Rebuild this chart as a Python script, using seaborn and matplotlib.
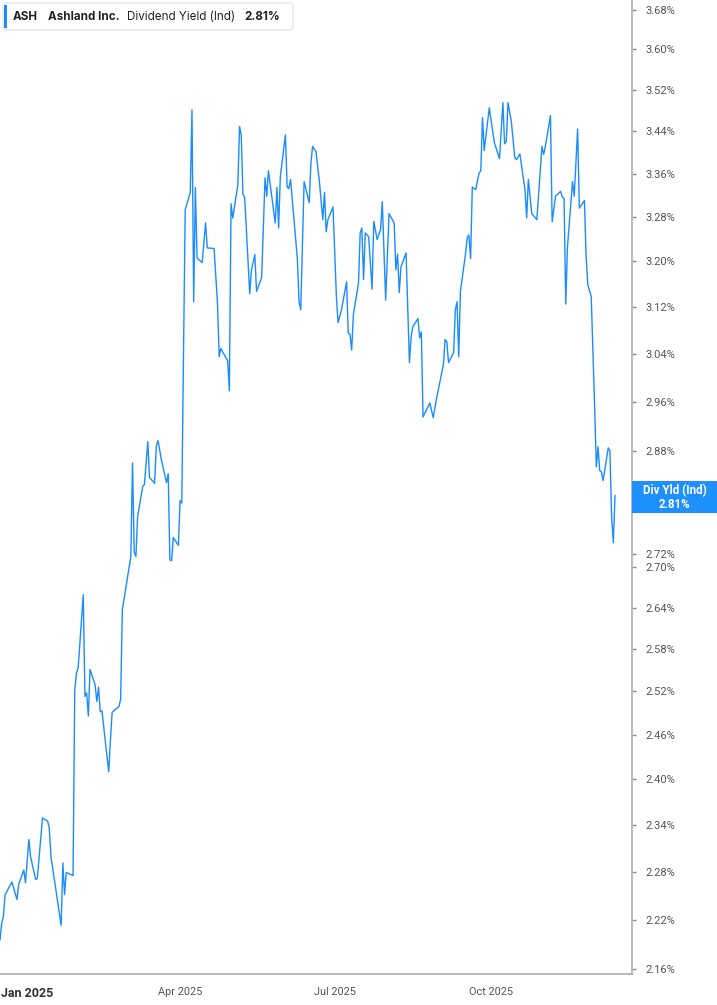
import pandas as pd
import matplotlib
matplotlib.use("Agg")
import matplotlib.pyplot as plt
import matplotlib.ticker as mticker
from matplotlib.patches import FancyBboxPatch, Rectangle
from matplotlib.transforms import IdentityTransform
import seaborn as sns

# ---- data ----
dates = [
    "2024-12-16", "2024-12-17", "2024-12-18", "2024-12-19", "2024-12-23", "2024-12-26",
    "2024-12-27", "2024-12-30", "2024-12-31", "2025-01-02", "2025-01-03", "2025-01-06",
    "2025-01-07", "2025-01-10", "2025-01-13", "2025-01-14", "2025-01-15", "2025-01-21",
    "2025-01-22", "2025-01-23", "2025-01-24", "2025-01-27", "2025-01-28", "2025-01-29",
    "2025-01-30", "2025-01-31", "2025-02-03", "2025-02-04", "2025-02-05", "2025-02-06",
    "2025-02-07", "2025-02-10", "2025-02-11", "2025-02-12", "2025-02-13", "2025-02-14",
    "2025-02-18", "2025-02-19", "2025-02-20", "2025-02-24", "2025-02-25", "2025-02-26",
    "2025-03-03", "2025-03-04", "2025-03-05", "2025-03-06", "2025-03-07", "2025-03-10",
    "2025-03-11", "2025-03-13", "2025-03-14", "2025-03-17", "2025-03-18", "2025-03-19",
    "2025-03-21", "2025-03-24", "2025-03-25", "2025-03-26", "2025-03-27", "2025-03-28",
    "2025-03-31", "2025-04-01", "2025-04-02", "2025-04-04", "2025-04-07", "2025-04-08",
    "2025-04-09", "2025-04-10", "2025-04-11", "2025-04-14", "2025-04-16", "2025-04-17",
    "2025-04-21", "2025-04-23", "2025-04-24", "2025-04-25", "2025-04-29", "2025-04-30",
    "2025-05-01", "2025-05-02", "2025-05-05", "2025-05-06", "2025-05-07", "2025-05-08",
    "2025-05-09", "2025-05-12", "2025-05-13", "2025-05-15", "2025-05-16", "2025-05-19",
    "2025-05-21", "2025-05-22", "2025-05-23", "2025-05-27", "2025-05-28", "2025-05-29",
    "2025-05-30", "2025-06-02", "2025-06-03", "2025-06-04", "2025-06-05", "2025-06-09",
    "2025-06-10", "2025-06-11", "2025-06-13", "2025-06-16", "2025-06-17", "2025-06-18",
    "2025-06-20", "2025-06-22", "2025-06-24", "2025-06-25", "2025-06-26", "2025-06-27",
    "2025-06-30", "2025-07-02", "2025-07-03", "2025-07-05", "2025-07-08", "2025-07-09",
    "2025-07-10", "2025-07-11", "2025-07-12", "2025-07-15", "2025-07-16", "2025-07-17",
    "2025-07-18", "2025-07-19", "2025-07-21", "2025-07-23", "2025-07-24", "2025-07-26",
    "2025-07-28", "2025-07-29", "2025-07-31", "2025-08-02", "2025-08-05", "2025-08-06",
    "2025-08-07", "2025-08-08", "2025-08-09", "2025-08-12", "2025-08-14", "2025-08-15",
    "2025-08-16", "2025-08-19", "2025-08-20", "2025-08-21", "2025-08-22", "2025-08-26",
    "2025-08-28", "2025-08-30", "2025-09-03", "2025-09-04", "2025-09-05", "2025-09-06",
    "2025-09-09", "2025-09-10", "2025-09-11", "2025-09-12", "2025-09-13", "2025-09-16",
    "2025-09-17", "2025-09-18", "2025-09-19", "2025-09-20", "2025-09-22", "2025-09-24",
    "2025-09-25", "2025-09-26", "2025-09-27", "2025-09-30", "2025-10-03", "2025-10-06",
    "2025-10-08", "2025-10-09", "2025-10-10", "2025-10-11", "2025-10-13", "2025-10-15",
    "2025-10-16", "2025-10-18", "2025-10-21", "2025-10-22", "2025-10-23", "2025-10-25",
    "2025-10-28", "2025-10-31", "2025-11-01", "2025-11-02", "2025-11-05", "2025-11-06",
    "2025-11-08", "2025-11-11", "2025-11-12", "2025-11-13", "2025-11-14", "2025-11-15",
    "2025-11-18", "2025-11-19", "2025-11-21", "2025-11-22", "2025-11-25", "2025-11-26",
    "2025-11-27", "2025-11-29", "2025-12-01", "2025-12-02", "2025-12-03", "2025-12-04",
    "2025-12-05", "2025-12-06", "2025-12-09", "2025-12-10", "2025-12-11", "2025-12-12",
    "2025-12-13",
]
yields = [
    2.195, 2.216, 2.224, 2.251, 2.267, 2.245,
    2.264, 2.282, 2.266, 2.321, 2.299, 2.270,
    2.272, 2.349, 2.345, 2.336, 2.299, 2.213,
    2.291, 2.251, 2.279, 2.276, 2.275, 2.522,
    2.546, 2.553, 2.659, 2.513, 2.518, 2.486,
    2.551, 2.529, 2.506, 2.526, 2.492, 2.493,
    2.410, 2.453, 2.491, 2.499, 2.509, 2.637,
    2.716, 2.861, 2.723, 2.716, 2.777, 2.824,
    2.827, 2.895, 2.838, 2.829, 2.888, 2.897,
    2.866, 2.830, 2.844, 2.711, 2.710, 2.745,
    2.733, 2.802, 2.798, 3.293, 3.325, 3.481,
    3.129, 3.334, 3.206, 3.198, 3.269, 3.224,
    3.223, 3.127, 3.035, 3.049, 3.028, 2.978,
    3.304, 3.278, 3.339, 3.449, 3.433, 3.321,
    3.316, 3.143, 3.185, 3.212, 3.147, 3.171,
    3.352, 3.318, 3.365, 3.269, 3.334, 3.260,
    3.354, 3.433, 3.335, 3.332, 3.349, 3.206,
    3.129, 3.115, 3.345, 3.306, 3.380, 3.411,
    3.401, 3.345, 3.275, 3.325, 3.253, 3.275,
    3.298, 3.138, 3.093, 3.115, 3.164, 3.075,
    3.073, 3.046, 3.107, 3.161, 3.251, 3.260,
    3.168, 3.251, 3.244, 3.151, 3.272, 3.239,
    3.257, 3.308, 3.132, 3.286, 3.269, 3.185,
    3.213, 3.145, 3.190, 3.215, 3.025, 3.069,
    3.086, 3.100, 3.067, 3.077, 2.935, 2.958,
    2.934, 2.966, 3.022, 3.064, 3.060, 3.025,
    3.042, 3.115, 3.129, 3.035, 3.147, 3.213,
    3.242, 3.247, 3.205, 3.335, 3.330, 3.361,
    3.365, 3.466, 3.403, 3.485, 3.418, 3.388,
    3.495, 3.416, 3.420, 3.495, 3.458, 3.390,
    3.386, 3.397, 3.330, 3.278, 3.349, 3.286,
    3.275, 3.411, 3.396, 3.411, 3.470, 3.271,
    3.318, 3.327, 3.316, 3.314, 3.125, 3.225,
    3.345, 3.318, 3.444, 3.296, 3.310, 3.208,
    3.159, 3.138, 2.952, 2.855, 2.887, 2.849,
    2.847, 2.833, 2.885, 2.880, 2.777, 2.737,
    2.810,
]

# 2.80% sits under the last-value tag in the reference, so it is left out
ytick_vals = [3.68, 3.60, 3.52, 3.44, 3.36, 3.28, 3.20, 3.12, 3.04, 2.96, 2.88,
              2.72, 2.70, 2.64, 2.58, 2.52, 2.46, 2.40, 2.34, 2.28, 2.22, 2.16]
xtick_dates = ["2025-01-01", "2025-04-01", "2025-07-01", "2025-10-01"]
xtick_labels = ["Jan 2025", "Apr 2025", "Jul 2025", "Oct 2025"]

symbol = "ASH"
company = "Ashland Inc."
metric = "Dividend Yield (Ind)"
tag_name = "Div Yld (Ind)"

LINE = "#1a8cff"
W, H = 717, 1005

sns.set_style("white")
plt.rcParams["font.family"] = ["Roboto", "DejaVu Sans"]

fig = plt.figure(figsize=(W / 100, H / 100), dpi=100)
ax = fig.add_axes([0, 1 - 974 / H, 632 / W, 974 / H])

df = pd.DataFrame({"date": pd.to_datetime(dates), "yield": yields})
sns.lineplot(data=df, x="date", y="yield", ax=ax, color=LINE, lw=1.0)

ax.set_yscale("log")
ax.set_ylim(2.154, 3.70)
ax.set_xlim(pd.Timestamp("2024-12-16"), pd.Timestamp("2025-12-23"))
ax.set_xlabel("")
ax.set_ylabel("")

ax.yaxis.tick_right()
ax.yaxis.set_major_locator(mticker.FixedLocator(ytick_vals))
ax.yaxis.set_minor_locator(mticker.NullLocator())
ax.yaxis.set_major_formatter(mticker.FuncFormatter(lambda v, p: f"{v:.2f}%"))
ax.tick_params(axis="y", which="major", right=True, left=False, length=3, width=1,
               color="#888888", pad=7, labelsize=8, labelcolor="#555555")

ax.set_xticks(pd.to_datetime(xtick_dates))
ax.set_xticklabels(xtick_labels)
ax.tick_params(axis="x", length=4, width=1, color="#aaaaaa", pad=5,
               labelsize=7.8, labelcolor="#555555")
first = ax.get_xticklabels()[0]
first.set_fontweight("bold")
first.set_fontsize(9)
first.set_color("#333333")

for side in ["top", "left"]:
    ax.spines[side].set_visible(False)
for side in ["right", "bottom"]:
    ax.spines[side].set_color("#b3b3b3")
    ax.spines[side].set_linewidth(1.3)

# header box (pixel coordinates, origin bottom-left)
px = IdentityTransform()
fig.patches.append(FancyBboxPatch((3, H - 30), 290, 27, boxstyle="round,pad=0,rounding_size=4",
                                  transform=px, facecolor="white", edgecolor="#e6e6e6", lw=1))
fig.patches.append(Rectangle((4, H - 28), 3, 23, transform=px, facecolor=LINE, edgecolor="none"))
hy = H - 16.5
hdr = dict(transform=px, va="center", ha="left", fontsize=8.4, color="#222222",
           family=["Inter", "DejaVu Sans"])
fig.text(13, hy, symbol, fontweight="bold", **hdr)
fig.text(48, hy, company, fontweight="bold", **hdr)
fig.text(127, hy, metric, **hdr)
fig.text(244, hy, f"{yields[-1]:.2f}%", fontweight="bold", **hdr)

# last value tag on the right axis
fig.patches.append(Rectangle((632, H - 513), W - 632, 32, transform=px,
                             facecolor="#1e90ff", edgecolor="none", zorder=5))
tag = dict(transform=px, ha="center", va="center", fontsize=8.3, color="white",
           fontweight="bold", zorder=6)
fig.text(674.5, H - 490.5, tag_name, **tag)
fig.text(674.5, H - 504.5, f"{yields[-1]:.2f}%", **tag)

fig.savefig("out.png", dpi=100)
